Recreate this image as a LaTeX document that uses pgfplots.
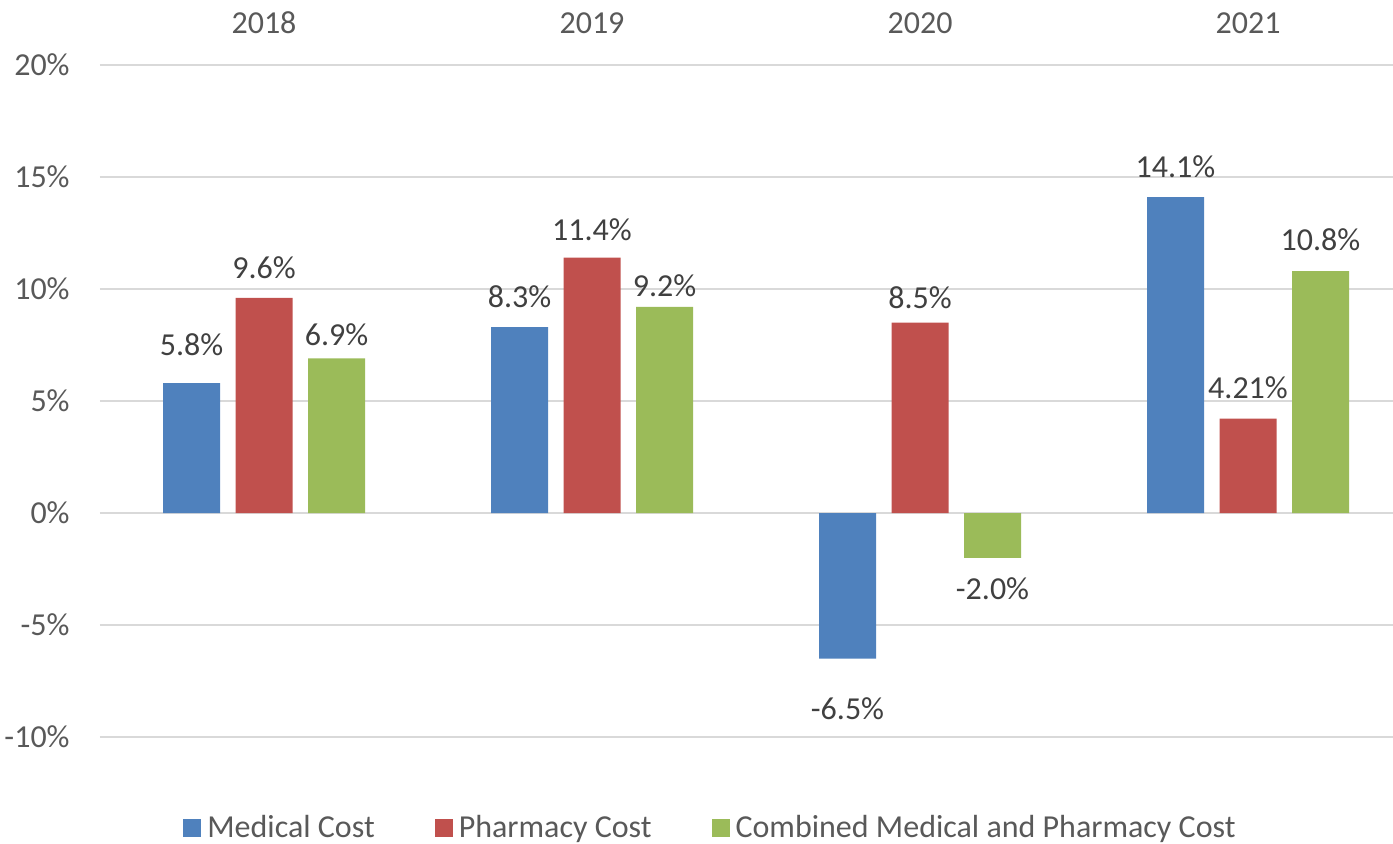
\documentclass[border=0pt]{standalone}
\usepackage{pgfplots}
\pgfplotsset{compat=1.18}
\usepackage{pgfplotstable}
\usepackage{fontspec}
\setmainfont{Carlito}
\definecolor{cblue}{HTML}{4F81BD}
\definecolor{cred}{HTML}{C0504D}
\definecolor{cgreen}{HTML}{9BBB59}
\definecolor{ticktext}{HTML}{595959}
\definecolor{labtext}{HTML}{404040}
\definecolor{gridc}{HTML}{D9D9D9}
\newcommand{\chartfont}{\fontsize{16}{19.2}\selectfont}
\pgfplotsset{sqlegend/.style={legend image code/.code={\fill[##1] (0pt,-4.5pt) rectangle (9pt,4.5pt);}}}

\pgfplotstableread{
x y lab off
0 5.8 5.8 19
1 8.3 8.3 15
2 -6.5 -6.5 -25
3 14.1 14.1 15
}\medical
\pgfplotstableread{
x y lab off
0 9.6 9.6 15
1 11.4 11.4 14
2 8.5 8.5 12.5
3 4.21 4.21 15.5
}\pharmacy
\pgfplotstableread{
x y lab off
0 6.9 6.9 12
1 9.2 9.2 10.5
2 -2.0 -2.0 -15.5
3 10.8 10.8 15.5
}\combined

\begin{document}
\begin{tikzpicture}
\begin{axis}[
  at={(0pt,0pt)}, anchor=south west,
  scale only axis, width=646.5pt, height=336pt,
  ybar=7.75pt, bar width=28.5pt,
  xmin=-0.5, xmax=3.442, ymin=-10, ymax=20,
  xtick={0,1,2,3}, xticklabels={2018,2019,2020,2021},
  xticklabel pos=upper,
  ytick={-10,-5,0,5,10,15,20},
  yticklabels={-10\%,-5\%,0\%,5\%,10\%,15\%,20\%},
  major tick length=0pt,
  axis line style={draw=none},
  ymajorgrids, grid style={draw=gridc, line width=1pt},
  tick label style={font=\chartfont, text=ticktext},
  xticklabel style={anchor=center, yshift=21pt},
  yticklabel style={anchor=east, inner xsep=0pt, xshift=-15pt},
  point meta=explicit symbolic,
  nodes near coords={\pgfplotspointmeta\%},
  visualization depends on={\thisrow{off} \as \myoff},
  nodes near coords align={anchor=center},
  every node near coord/.append style={font=\chartfont, text=labtext, anchor=center, yshift=\myoff pt},
  legend columns=3,
  legend style={at={(0.4737,-0.1354)}, anchor=center, draw=none, fill=none,
    font=\chartfont, text=ticktext, inner sep=0pt,
    nodes={inner xsep=3pt},
    /tikz/every even column/.append style={column sep=27pt}},
]
\addplot[fill=cblue, draw=none, sqlegend]
  table[x=x, y=y, meta=lab] {\medical};
\addlegendentry{Medical Cost}
\addplot[fill=cred, draw=none, sqlegend]
  table[x=x, y=y, meta=lab] {\pharmacy};
\addlegendentry{Pharmacy Cost}
\addplot[fill=cgreen, draw=none, sqlegend]
  table[x=x, y=y, meta=lab] {\combined};
\addlegendentry{Combined Medical and Pharmacy Cost}
\end{axis}
\pgfresetboundingbox
\useasboundingbox (-50pt,-53pt) rectangle (646.5pt,368.5pt);
\end{tikzpicture}
\end{document}
